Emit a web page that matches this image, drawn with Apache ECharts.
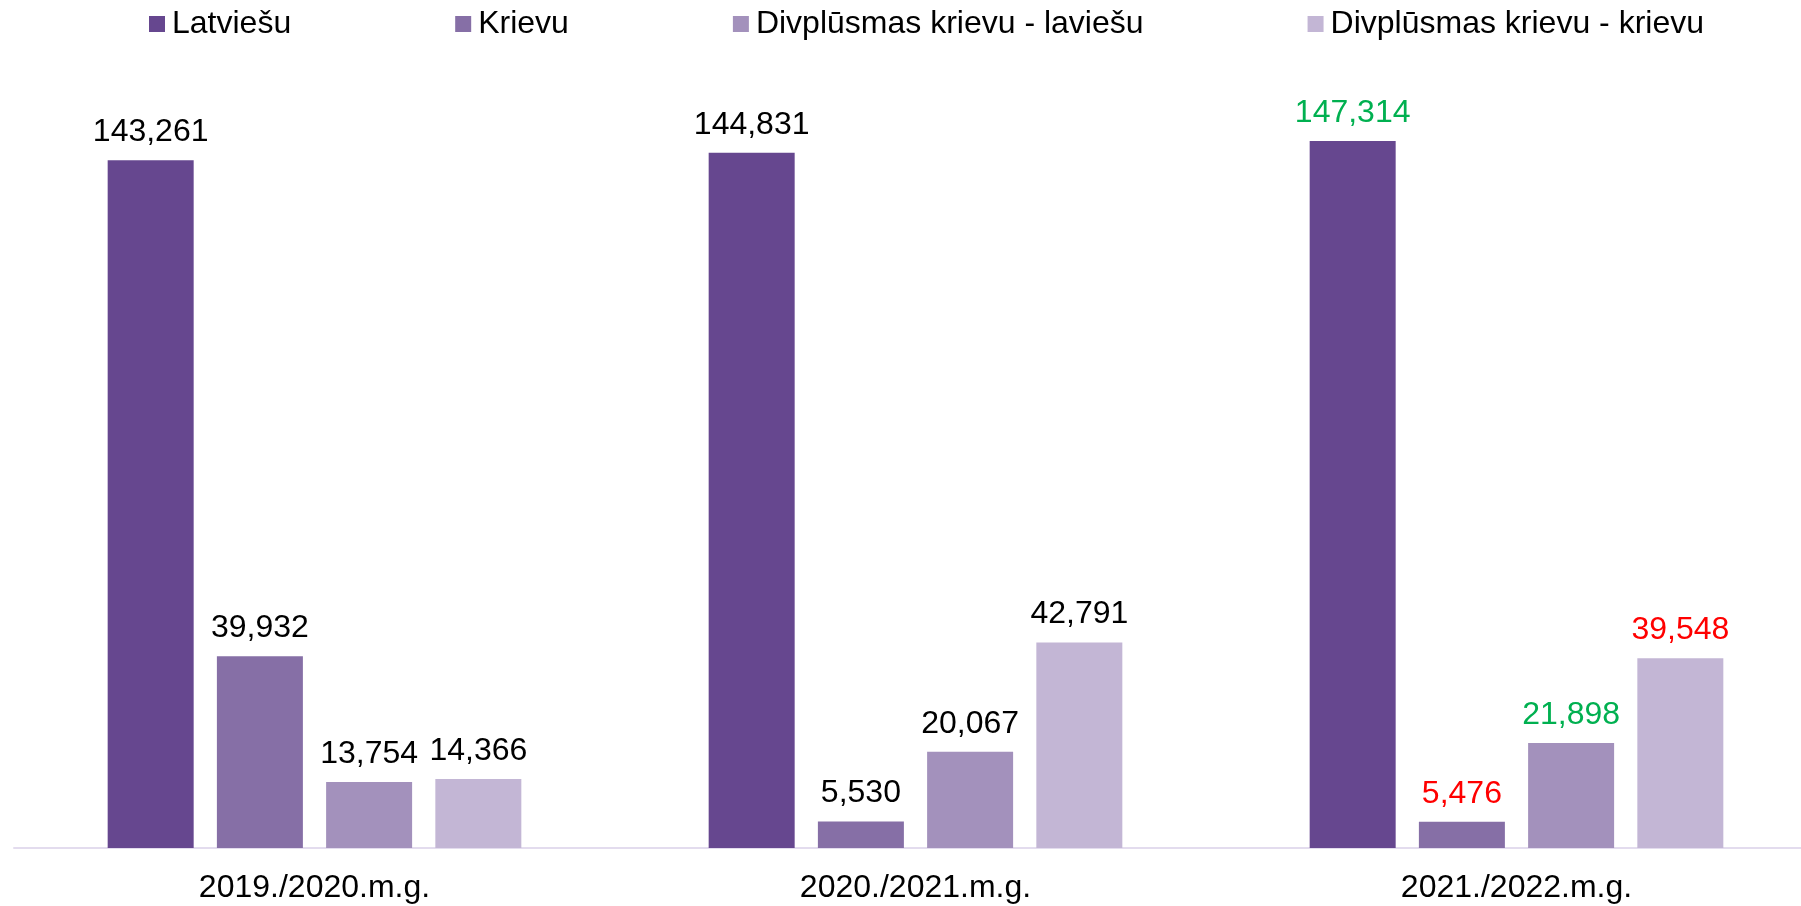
<!DOCTYPE html>
<html>
<head>
<meta charset="utf-8">
<script src="https://cdn.jsdelivr.net/npm/echarts@6/dist/echarts.min.js"></script>
<style>
html,body{margin:0;padding:0;background:#fff;}
#chart{width:1801px;height:906px;}
</style>
</head>
<body>
<div id="chart"></div>
<script>
const categories = ['2019./2020.m.g.', '2020./2021.m.g.', '2021./2022.m.g.'];
const seriesNames = ['Latviešu', 'Krievu', 'Divplūsmas krievu - laviešu', 'Divplūsmas krievu - krievu'];
const latviesu = [143261, 144831, 147314];
const krievu = [39932, 5530, 5476];
const divLav = [13754, 20067, 21898];
const divKriev = [14366, 42791, 39548];
const yMax = 160000;

const seriesData = [latviesu, krievu, divLav, divKriev];
const colors = ['#66478f', '#866fa6', '#a391bc', '#c3b6d5'];
const FONT = '"Liberation Sans", Arial, sans-serif';

function fmt(v){ return v.toLocaleString('en-US'); }

const chart = echarts.init(document.getElementById('chart'));
const series = seriesData.map((arr, si) => ({
  name: seriesNames[si],
  type: 'bar',
  barWidth: 86,
  barGap: '27%',
  itemStyle: { color: colors[si] },
  data: arr.map((v, ci) => {
    let c = '#000000';
    if (ci === arr.length - 1 && ci > 0) {
      c = v >= arr[ci - 1] ? '#00b050' : '#ff0000';
    }
    return { value: v, label: { color: c } };
  }),
  label: {
    show: true,
    position: 'top',
    distance: 12,
    fontFamily: FONT,
    fontSize: 32,
    formatter: p => fmt(p.value)
  }
}));

chart.setOption({
  animation: false,
  backgroundColor: '#ffffff',
  color: colors,
  legend: {
    left: 149,
    top: 8,
    padding: 0,
    itemWidth: 16,
    itemHeight: 16,
    itemGap: 164,
    icon: 'rect',
    textStyle: { fontFamily: FONT, fontSize: 32, color: '#000', padding: [0,0,0,2] },
    data: seriesNames
  },
  grid: { left: 14, top: 80, right: -16, bottom: 58, containLabel: false, outerBoundsMode: 'none' },
  xAxis: {
    type: 'category',
    data: categories,
    axisLine: { show: true, lineStyle: { color: '#e3dcee', width: 2 } },
    axisTick: { show: false },
    axisLabel: { fontFamily: FONT, fontSize: 32, color: '#000', margin: 24 }
  },
  yAxis: {
    type: 'value',
    min: 0,
    max: yMax,
    show: false,
    splitLine: { show: false }
  },
  series: series
});
</script>
</body>
</html>
